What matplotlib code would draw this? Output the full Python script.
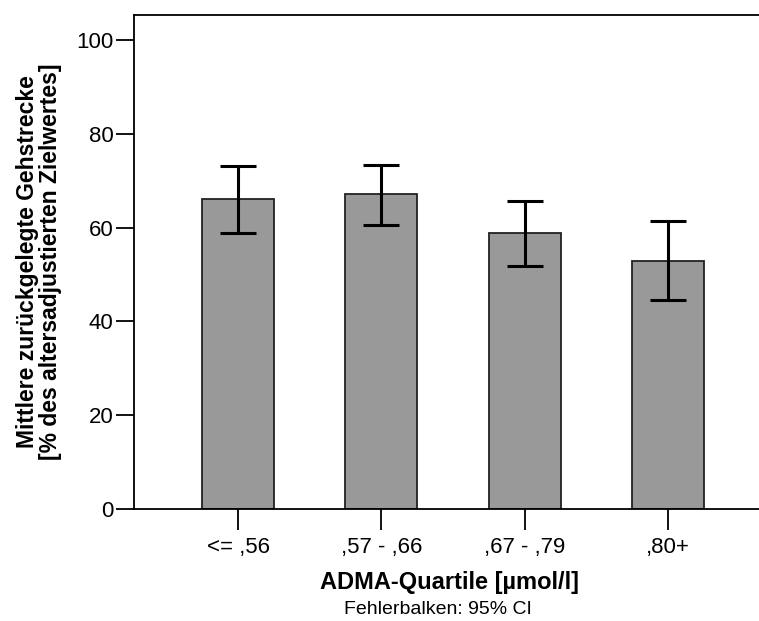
import matplotlib
matplotlib.use("Agg")
import matplotlib.pyplot as plt
import numpy as np

plt.rcParams['font.family'] = ['Liberation Sans', 'DejaVu Sans']

# Daten
quartile = ['<= ,56', ',57 - ,66', ',67 - ,79', ',80+']
mittelwert = [66.0, 67.1, 58.9, 52.9]
ci_unten = [58.8, 60.6, 51.9, 44.5]
ci_oben = [73.2, 73.4, 65.7, 61.4]

y_ticks = [0, 20, 40, 60, 80, 100]

fig = plt.figure(figsize=(7.59, 6.21), dpi=100)
ax = fig.add_axes([0.177, 0.1804, 0.823, 0.7954])

x = np.arange(len(quartile))
mw = np.array(mittelwert)
err = [mw - np.array(ci_unten), np.array(ci_oben) - mw]

ax.bar(x, mw, width=0.503, color='#999999', edgecolor='#222222', linewidth=1.3, zorder=2)
ax.errorbar(x, mw, yerr=err, fmt='none', ecolor='black', elinewidth=2.2,
            capsize=13, capthick=2.2, zorder=3)

ax.set_xlim(-0.724, 3.636)
ax.set_ylim(0, 105.3)
ax.set_yticks(y_ticks)
ax.set_xticks(x)
ax.set_xticklabels(quartile)

ax.spines['right'].set_visible(False)
for s in ['left', 'top', 'bottom']:
    ax.spines[s].set_linewidth(1.3)
    ax.spines[s].set_color('black')

ax.tick_params(axis='y', length=13, width=1.3, labelsize=16, pad=2)
ax.tick_params(axis='x', length=15, width=1.3, labelsize=16, pad=5)

ax.set_ylabel('Mittlere zurückgelegte Gehstrecke\n[% des altersadjustierten Zielwertes]',
              fontsize=16.5, fontweight='bold', labelpad=10, linespacing=1.0)

fig.text(0.592, 1 - 583 / 621, 'ADMA-Quartile [µmol/l]', ha='center', va='center',
         fontsize=17, fontweight='bold')
fig.text(0.577, 1 - 609 / 621, 'Fehlerbalken: 95% CI', ha='center', va='center', fontsize=14)

fig.savefig('out.png', dpi=100)
